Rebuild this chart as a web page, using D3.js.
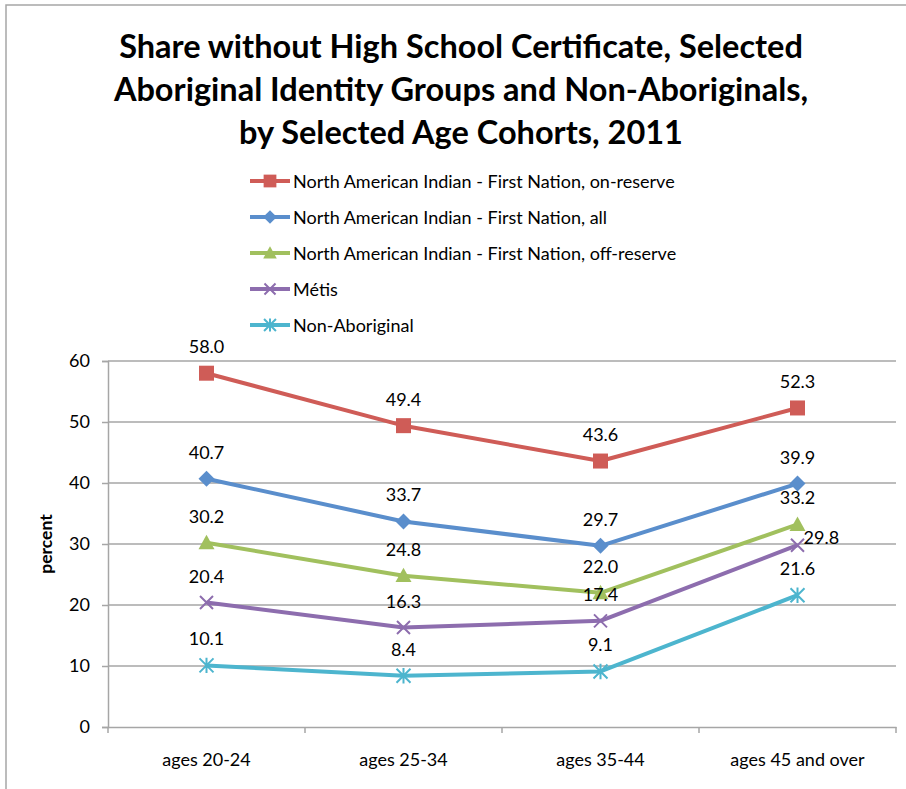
<!DOCTYPE html>
<html>
<head>
<meta charset="utf-8">
<script src="https://cdn.jsdelivr.net/npm/d3@7/dist/d3.min.js"></script>
<style>
  html, body { margin: 0; padding: 0; background: #fff; }
  svg { display: block; font-family: Lato, "Open Sans", sans-serif; }
</style>
</head>
<body>
<svg id="chart" width="906" height="789"></svg>
<script>
const titleLines = [
  "Share without High School Certificate, Selected",
  "Aboriginal Identity Groups and Non-Aboriginals,",
  "by Selected Age Cohorts, 2011"
];
const categories = ["ages 20-24", "ages 25-34", "ages 35-44", "ages 45 and over"];
const seriesNames = [
  "North American Indian - First Nation, on-reserve",
  "North American Indian - First Nation, all",
  "North American Indian - First Nation, off-reserve",
  "Métis",
  "Non-Aboriginal"
];
const onReserve  = [58.0, 49.4, 43.6, 52.3];
const fnAll      = [40.7, 33.7, 29.7, 39.9];
const offReserve = [30.2, 24.8, 22.0, 33.2];
const metis      = [20.4, 16.3, 17.4, 29.8];
const nonAborig  = [10.1, 8.4, 9.1, 21.6];
const yTicks = [0, 10, 20, 30, 40, 50, 60];
const yTitle = "percent";

const colors = ["#CF5C57", "#5A8ECC", "#A1C05E", "#8D6DAE", "#4DB5CE"];
const markers = ["square", "diamond", "triangle", "x", "star"];
const seriesValues = [onReserve, fnAll, offReserve, metis, nonAborig];

const svg = d3.select("#chart");

// outer frame
svg.append("rect").attr("x", 6).attr("y", 5).attr("width", 920).attr("height", 800)
  .attr("fill", "none").attr("stroke", "#A6A6A6").attr("stroke-width", 1.5);

// title
const titleG = svg.append("g");
titleLines.forEach((t, i) => {
  titleG.append("text")
    .attr("x", 461).attr("y", 58 + i * 43)
    .attr("text-anchor", "middle")
    .attr("font-weight", "bold")
    .attr("font-size", 32.5)
    .attr("fill", "#000")
    .text(t);
});

const margin = { left: 108, right: 896, top: 361, bottom: 727 };
const x = d3.scaleBand().domain(categories).range([margin.left, margin.right]);
const y = d3.scaleLinear().domain([0, 60]).range([margin.bottom, margin.top]);

// gridlines
svg.append("g").selectAll("line").data(yTicks.filter(d => d > 0)).join("line")
  .attr("x1", margin.left).attr("x2", margin.right)
  .attr("y1", d => y(d)).attr("y2", d => y(d))
  .attr("stroke", "#A6A6A6").attr("stroke-width", 1.5);

// y axis
const yAxis = svg.append("g").attr("transform", `translate(${margin.left},0)`)
  .call(d3.axisLeft(y).tickValues(yTicks).tickSize(6).tickPadding(12));
yAxis.select(".domain").attr("stroke", "#A6A6A6").attr("stroke-width", 1.5);
yAxis.selectAll(".tick line").attr("stroke", "#A6A6A6").attr("stroke-width", 1.5);
yAxis.selectAll("text").attr("font-size", 18).attr("fill", "#000")
  .attr("font-family", "Lato, sans-serif");

// x axis
const xAxis = svg.append("g").attr("transform", `translate(0,${margin.bottom})`)
  .call(d3.axisBottom(x).tickSize(0).tickPadding(26));
xAxis.select(".domain").attr("stroke", "#A6A6A6").attr("stroke-width", 1.5);
xAxis.selectAll("text").attr("font-size", 18).attr("fill", "#000")
  .attr("font-family", "Lato, sans-serif");
// boundary ticks
const bounds = categories.map(c => x(c)).concat([margin.right]);
svg.append("g").selectAll("line").data(bounds).join("line")
  .attr("x1", d => d).attr("x2", d => d)
  .attr("y1", margin.bottom).attr("y2", margin.bottom + 6)
  .attr("stroke", "#A6A6A6").attr("stroke-width", 1.5);

// y title
svg.append("text")
  .attr("transform", `translate(52,${(margin.top + margin.bottom) / 2}) rotate(-90)`)
  .attr("text-anchor", "middle")
  .attr("font-weight", "bold").attr("font-size", 17.5)
  .text(yTitle);

function drawMarker(g, type, cx, cy, color, scale) {
  const s = scale || 1;
  if (type === "square") {
    g.append("rect").attr("x", cx - 7.5 * s).attr("y", cy - 7.5 * s)
      .attr("width", 15 * s).attr("height", 15 * s).attr("fill", color);
  } else if (type === "diamond") {
    const r = 8 * s;
    g.append("path").attr("d", `M${cx},${cy - r}L${cx + r},${cy}L${cx},${cy + r}L${cx - r},${cy}Z`)
      .attr("fill", color);
  } else if (type === "triangle") {
    const r = 8 * s;
    g.append("path").attr("d", `M${cx},${cy - r}L${cx + r},${cy + r * 0.8}L${cx - r},${cy + r * 0.8}Z`)
      .attr("fill", color);
  } else if (type === "x") {
    const r = 6.5 * s;
    g.append("path").attr("d", `M${cx - r},${cy - r}L${cx + r},${cy + r}M${cx - r},${cy + r}L${cx + r},${cy - r}`)
      .attr("stroke", color).attr("stroke-width", 2).attr("fill", "none");
  } else if (type === "star") {
    const r = 7 * s;
    g.append("path").attr("d",
      `M${cx - r},${cy - r}L${cx + r},${cy + r}M${cx - r},${cy + r}L${cx + r},${cy - r}M${cx},${cy - r * 1.1}L${cx},${cy + r * 1.1}`)
      .attr("stroke", color).attr("stroke-width", 2).attr("fill", "none");
  }
}

const line = d3.line().x((d, i) => x(categories[i]) + x.bandwidth() / 2).y(d => y(d));

seriesValues.forEach((vals, si) => {
  const g = svg.append("g");
  g.append("path").datum(vals).attr("d", line)
    .attr("fill", "none").attr("stroke", colors[si]).attr("stroke-width", 4)
    .attr("stroke-linejoin", "round");
  vals.forEach((v, i) => {
    drawMarker(g, markers[si], x(categories[i]) + x.bandwidth() / 2, y(v), colors[si]);
  });
});

// data labels
seriesValues.forEach((vals, si) => {
  vals.forEach((v, i) => {
    const cx = x(categories[i]) + x.bandwidth() / 2;
    let lx = cx, ly = y(v) - 20, anchor = "middle";
    if (si === 3 && i === 3) { lx = cx + 6; ly = y(v) - 1; anchor = "start"; }
    svg.append("text").attr("x", lx).attr("y", ly)
      .attr("text-anchor", anchor).attr("font-size", 18).attr("fill", "#000")
      .text(v.toFixed(1));
  });
});

// legend
const legend = svg.append("g");
seriesNames.forEach((name, i) => {
  const ly = 181 + i * 36;
  legend.append("line").attr("x1", 250).attr("x2", 290).attr("y1", ly).attr("y2", ly)
    .attr("stroke", colors[i]).attr("stroke-width", 4);
  drawMarker(legend, markers[i], 270, ly, colors[i], 0.85);
  legend.append("text").attr("x", 293).attr("y", ly + 6.5)
    .attr("font-size", 18).attr("fill", "#000").text(name);
});
</script>
</body>
</html>
